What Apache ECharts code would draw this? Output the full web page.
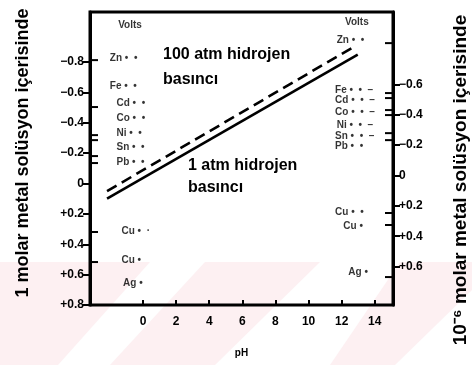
<!DOCTYPE html>
<html><head><meta charset="utf-8">
<script src="https://cdn.jsdelivr.net/npm/echarts@6/dist/echarts.min.js"></script>
<style>html,body{margin:0;padding:0;background:#fff}#c{width:472px;height:365px}</style>
</head><body><div id="c"></div>
<script>
// ---- data ----
const phTicks = [0, 2, 4, 6, 8, 10, 12, 14];
const leftTicks = [-0.8, -0.6, -0.4, -0.2, 0, 0.2, 0.4, 0.6, 0.8];
const rightTicks = [-0.6, -0.4, -0.2, 0, 0.2, 0.4, 0.6];

const line1atmPH = [-2.17, 12.97];
const line1atmE = [0.10, -0.85];
const line100atmPH = [-2.17, 12.8];
const line100atmE = [0.05, -0.905];

const metals = ['Zn', 'Fe', 'Cd', 'Co', 'Ni', 'Sn', 'Pb', 'Cu', 'Cu', 'Ag'];
const leftMetalE = [-0.826, -0.642, -0.53, -0.431, -0.332, -0.24, -0.142, 0.313, 0.504, 0.655];
const leftTickE = [-0.813, -0.504, -0.319, -0.286, -0.181, -0.135, 0.319, 0.517];
const rightMetalE = [-0.945, -0.616, -0.55, -0.471, -0.385, -0.313, -0.247, 0.188, 0.28, 0.583];
const rightTickE = [-0.925, -0.596, -0.563, -0.484, -0.451, -0.332, -0.286, 0.194, 0.273, 0.616];
const voltsLeftE = -1.043;
const voltsRightE = -1.063;

// ---- layout / style ----
const X_MIN = -3.2, X_MAX = 15.1;
const Y_MIN = -1.13, Y_MAX = 0.8;
const Y2_MIN = -1.076, Y2_MAX = 0.853;
const leftSuffix = [' •  •', ' •  •', ' •  •', ' •  •', ' •  •', ' •  •', ' •  •', ' •  ·', ' •', ' •'];
const rightSuffix = [' •  •', ' •  •  –', ' •  •  –', ' •  •  –', ' •  •  –', ' •  •  –', ' •  •', ' •  •', ' •', ' •'];
const leftLabelX = [-2.0, -2.0, -1.6, -1.6, -1.6, -1.6, -1.6, -1.3, -1.3, -1.2];
const rightLabelX = [11.7, 11.6, 11.6, 11.6, 11.7, 11.6, 11.6, 11.6, 12.1, 12.4];

const FONT = '"Liberation Sans", Arial, sans-serif';

const labelData = [];
metals.forEach((m, i) => {
  labelData.push({ value: [leftLabelX[i], leftMetalE[i]], name: m + leftSuffix[i] });
  labelData.push({ value: [rightLabelX[i], rightMetalE[i]], name: m + rightSuffix[i] });
});
labelData.push({ value: [-1.5, voltsLeftE], name: 'Volts' });
labelData.push({ value: [12.2, voltsRightE], name: 'Volts' });

const tickData = [];
leftTickE.forEach(e => tickData.push([X_MIN, e, 1]));
rightTickE.forEach(e => tickData.push([X_MAX, e, -1]));

const fmt = v => {
  if (Math.abs(v) < 1e-9) return '0';
  return (v < 0 ? '−' : '+') + Math.abs(v).toFixed(1);
};

const chart = echarts.init(document.getElementById('c'), null, { renderer: 'canvas' });
chart.setOption({
  animation: false,
  backgroundColor: '#fff',
  textStyle: { fontFamily: FONT },
  grid: { left: 90, right: 79, top: 12, bottom: 60, show: true, borderColor: '#000', borderWidth: 3, backgroundColor: 'transparent' },
  xAxis: {
    type: 'value', min: X_MIN, max: X_MAX,
    axisLine: { onZero: false, lineStyle: { color: '#000', width: 2 } },
    axisTick: { inside: true, length: 5, lineStyle: { color: '#000', width: 2 }, customValues: phTicks },
    axisLabel: { customValues: phTicks, color: '#000', fontSize: 12, fontWeight: 'bold', margin: 11, fontFamily: FONT },
    splitLine: { show: false },
    name: 'pH', nameLocation: 'middle', nameGap: 43,
    nameTextStyle: { color: '#000', fontSize: 10, fontWeight: 'bold', fontFamily: FONT }
  },
  yAxis: [{
    type: 'value', inverse: true, min: Y_MIN, max: Y_MAX, position: 'left',
    axisLine: { show: true, onZero: false, lineStyle: { color: '#000', width: 3 } },
    axisTick: { show: true, length: 7, lineStyle: { color: '#000', width: 2 }, customValues: leftTicks },
    axisLabel: { customValues: leftTicks, formatter: fmt, color: '#000', fontSize: 12, fontWeight: 'bold', margin: 6, fontFamily: FONT },
    splitLine: { show: false }
  }, {
    type: 'value', inverse: true, min: Y2_MIN, max: Y2_MAX, position: 'right',
    axisLine: { show: true, onZero: false, lineStyle: { color: '#000', width: 3 } },
    axisTick: { show: true, length: 7, lineStyle: { color: '#000', width: 2 }, customValues: rightTicks },
    axisLabel: { customValues: rightTicks, formatter: fmt, color: '#000', fontSize: 12, fontWeight: 'bold', margin: 6, fontFamily: FONT },
    splitLine: { show: false }
  }],
  graphic: [
    { type: 'polygon', z: -10, shape: { points: [[0, 262], [150, 262], [58, 365], [0, 365]] }, style: { fill: '#fdf0f2' } },
    { type: 'polygon', z: -10, shape: { points: [[205, 262], [320, 262], [215, 365], [110, 365]] }, style: { fill: '#fdf0f2' } },
    { type: 'polygon', z: -10, shape: { points: [[400, 262], [472, 262], [472, 290], [395, 365], [330, 365]] }, style: { fill: '#fdf0f2' } },
    { type: 'text', left: 163, top: 47, style: { text: '100 atm hidrojen', font: 'bold 16px ' + FONT, fill: '#000' } },
    { type: 'text', left: 163, top: 72, style: { text: 'basıncı', font: 'bold 16px ' + FONT, fill: '#000' } },
    { type: 'text', left: 188, top: 158, style: { text: '1 atm hidrojen', font: 'bold 16px ' + FONT, fill: '#000' } },
    { type: 'text', left: 188, top: 180, style: { text: 'basıncı', font: 'bold 16px ' + FONT, fill: '#000' } },
    { type: 'text', x: 23, y: 153, rotation: Math.PI / 2,
      style: { text: '1 molar metal solüsyon içerisinde', font: 'bold 18px ' + FONT, fill: '#000', align: 'center', verticalAlign: 'middle' } },
    { type: 'text', x: 461, y: 180, rotation: Math.PI / 2,
      style: { text: '10⁻⁶ molar metal solüsyon içerisinde', font: 'bold 19px ' + FONT, fill: '#000', align: 'center', verticalAlign: 'middle' } }
  ],
  series: [{
    type: 'line', yAxisIndex: 0, symbol: 'none', silent: true,
    data: line1atmPH.map((p, i) => [p, line1atmE[i]]),
    lineStyle: { color: '#000', width: 2.6, type: 'solid' }
  }, {
    type: 'line', yAxisIndex: 0, symbol: 'none', silent: true,
    data: line100atmPH.map((p, i) => [p, line100atmE[i]]),
    lineStyle: { color: '#000', width: 2.6, type: [11, 6] }
  }, {
    type: 'scatter', yAxisIndex: 0, symbolSize: 0, silent: true,
    data: labelData,
    label: { show: true, position: 'right', distance: 0, formatter: p => p.name, color: '#000', fontSize: 10, fontWeight: 'bold', fontFamily: FONT }
  }, {
    type: 'custom', yAxisIndex: 0, silent: true, clip: false,
    data: tickData,
    renderItem: (params, api) => {
      const p = api.coord([api.value(0), api.value(1)]);
      const d = api.value(2);
      return { type: 'line', shape: { x1: p[0], y1: p[1], x2: p[0] + d * 8, y2: p[1] }, style: { stroke: '#000', lineWidth: 2 } };
    }
  }]
});
</script></body></html>
